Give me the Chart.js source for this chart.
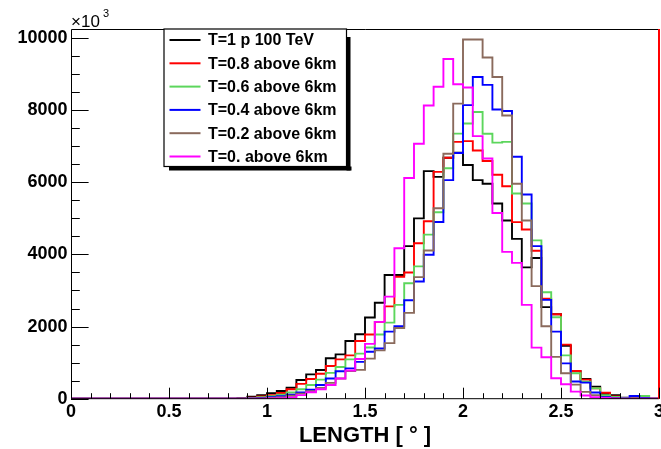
<!DOCTYPE html>
<html>
<head>
<meta charset="utf-8">
<script src="https://cdn.jsdelivr.net/npm/chart.js@4.4.1/dist/chart.umd.min.js"></script>
<style>
  html, body { margin: 0; padding: 0; background: #fff; }
  #wrap { width: 661px; height: 449px; }
</style>
</head>
<body>
<div id="wrap"><canvas id="chart" width="661" height="449"></canvas></div>
<script>
// histogram bins, 0.05 wide, first non-empty bin starts at 0.85
const binStart = 0.85;
const binWidth = 0.05;

const labels = ["T=1 p 100 TeV", "T=0.8 above 6km", "T=0.6 above 6km",
                "T=0.4 above 6km", "T=0.2 above 6km", "T=0. above 6km"];

const t100 = [20, 55, 95, 150, 215, 305, 520, 675, 795, 1120, 1230, 1600, 1785, 2250, 2660,
  3430, 3430, 4230, 5000, 6310, 6150, 6680, 6820, 6480, 6060, 5960, 5410, 4940, 4430, 3640,
  3900, 2540, 2340, 1470, 760, 545, 335, 130, 100, 30, 15, 5, 0];
const t080 = [10, 30, 60, 100, 160, 260, 410, 545, 690, 905, 1090, 1200, 1600, 1780, 2130,
  2560, 3380, 3500, 4310, 4920, 6290, 6680, 7120, 7140, 6880, 6590, 6210, 5890, 4895, 4690,
  4100, 2770, 2340, 1500, 770, 530, 290, 165, 60, 20, 10, 5, 0];
const t060 = [5, 20, 40, 70, 110, 170, 260, 380, 530, 715, 880, 1090, 1250, 1420, 1780,
  2110, 2600, 3200, 3670, 4550, 5170, 6390, 7350, 7630, 7950, 7345, 7100, 7120, 5690, 5410,
  4390, 2950, 2260, 1200, 705, 470, 290, 100, 50, 20, 10, 75, 0];
const t040 = [0, 10, 20, 40, 70, 110, 170, 250, 380, 560, 760, 840, 1020, 1300, 1390,
  1860, 2010, 2730, 3250, 3990, 4900, 6060, 6810, 8140, 8920, 8700, 8020, 7975, 6710, 5660,
  4230, 2740, 1860, 980, 475, 445, 170, 50, 20, 10, 75, 20, 0];
const t020 = [0, 5, 10, 20, 40, 80, 140, 210, 300, 440, 560, 770, 800, 1110, 1340,
  1540, 1960, 2380, 3370, 4110, 5280, 6790, 8180, 9960, 9960, 9460, 8920, 7850, 5960, 4940,
  3120, 2010, 1160, 705, 390, 190, 100, 30, 10, 0, 0, 0, 0];
const t000 = [0, 0, 0, 5, 15, 35, 100, 180, 260, 380, 560, 780, 1100, 1520, 2130,
  2830, 4170, 6120, 7070, 8130, 8650, 9420, 8720, 8630, 7280, 6660, 5150, 4070, 3765, 2600,
  1415, 1150, 565, 400, 195, 90, 40, 20, 10, 0, 0, 0, 0];

const xTicks = [0, 0.5, 1, 1.5, 2, 2.5, 3];
const yTicks = [0, 2000, 4000, 6000, 8000, 10000];

const colors = ["#000000", "#ff0000", "#5cd65c", "#0000ff", "#8a6a5c", "#ff00ff"];
const FONT = "'Liberation Sans', Arial, Helvetica, sans-serif";

function histPoints(values) {
  const pts = [{ x: 0, y: 0 }];
  values.forEach((v, i) => pts.push({ x: +(binStart + i * binWidth).toFixed(2), y: v }));
  pts.push({ x: 3, y: values[values.length - 1] });
  return pts;
}

const series = [t100, t080, t060, t040, t020, t000];
const datasets = series.map((vals, i) => ({
  label: labels[i],
  data: histPoints(vals),
  borderColor: colors[i],
  borderWidth: 1.9,
  pointRadius: 0,
  stepped: "before",
  fill: false,
  order: series.length - i   // later series drawn on top, like ROOT
}));

// ROOT-like frame, inward ticks, x10^3 and boxed legend
const rootStyle = {
  id: "rootStyle",
  afterDatasetsDraw(chart) {
    const { ctx, chartArea: a, scales } = chart;
    const xs = scales.x, ys = scales.y;
    ctx.save();
    ctx.lineWidth = 1;
    ctx.strokeStyle = "#000";
    ctx.beginPath();
    ctx.moveTo(a.right, a.top + 0.5); ctx.lineTo(a.left + 0.5, a.top + 0.5);
    ctx.lineTo(a.left + 0.5, a.bottom); ctx.lineTo(a.right, a.bottom);
    ctx.stroke();
    ctx.strokeStyle = "#ff0000";
    ctx.lineWidth = 2;
    ctx.beginPath();
    ctx.moveTo(a.right, a.top); ctx.lineTo(a.right, a.bottom);
    ctx.stroke();

    // ticks
    ctx.strokeStyle = "#000";
    ctx.lineWidth = 1;
    ctx.beginPath();
    for (let v = 0; v <= 10000; v += 500) {
      const y = Math.round(ys.getPixelForValue(v)) + 0.5;
      const len = v % 2000 === 0 ? 17.6 : 8.8;
      ctx.moveTo(a.left, y); ctx.lineTo(a.left + len, y);
    }
    for (let k = 0; k <= 30; k++) {
      const x = Math.round(xs.getPixelForValue(k / 10)) + 0.5;
      const len = k % 5 === 0 ? 11 : 5.5;
      ctx.moveTo(x, a.bottom); ctx.lineTo(x, a.bottom - len);
    }
    ctx.stroke();

    // x10^3
    ctx.fillStyle = "#000";
    ctx.textBaseline = "alphabetic";
    ctx.textAlign = "left";
    ctx.font = "17px " + FONT;
    ctx.fillText("\u00d710", 71, 27);
    ctx.font = "11px " + FONT;
    ctx.fillText("3", 103, 17);

    // legend
    const L = 164, T = 29, R = 346.5, B = 166.5;
    ctx.fillStyle = "#000";
    ctx.fillRect(L + 5, B, R - L, 4);
    ctx.fillRect(R, T + 8, 4, B - T - 4);
    ctx.fillStyle = "#fff";
    ctx.fillRect(L, T, R - L, B - T);
    ctx.strokeStyle = "#000";
    ctx.lineWidth = 1.2;
    ctx.strokeRect(L, T, R - L, B - T);
    ctx.font = "bold 16px " + FONT;
    ctx.textBaseline = "middle";
    chart.data.datasets.forEach((ds, i) => {
      const y = 40 + i * 23.3;
      ctx.strokeStyle = ds.borderColor;
      ctx.lineWidth = 2;
      ctx.beginPath();
      ctx.moveTo(169.5, y); ctx.lineTo(200.5, y);
      ctx.stroke();
      ctx.fillStyle = "#000";
      ctx.fillText(ds.label, 208, y + 1);
    });
    ctx.restore();
  }
};

new Chart(document.getElementById("chart"), {
  type: "line",
  data: { datasets },
  options: {
    responsive: false,
    animation: false,
    layout: { padding: { left: 0, right: 2, top: 29, bottom: 0 } },
    plugins: { legend: { display: false }, tooltip: { enabled: false } },
    scales: {
      x: {
        type: "linear",
        min: 0,
        max: 3,
        border: { display: false },
        grid: { display: false, drawTicks: false },
        afterBuildTicks: (s) => { s.ticks = xTicks.map(v => ({ value: v })); },
        afterFit: (s) => { s.height = 50.3; s.paddingLeft = 0; s.paddingRight = 0; },
        ticks: {
          color: "#000",
          padding: 3,
          maxRotation: 0,
          font: { family: FONT, size: 18, weight: "bold" },
          callback: (v) => String(v)
        },
        title: {
          display: true,
          text: "LENGTH [ \u00b0 ]",
          color: "#000",
          padding: { top: 0, bottom: 0 },
          font: { family: FONT, size: 22, weight: "bold" }
        }
      },
      y: {
        min: 0,
        max: 10250,
        border: { display: false },
        grid: { display: false, drawTicks: false },
        afterBuildTicks: (s) => { s.ticks = yTicks.map(v => ({ value: v })); },
        afterFit: (s) => { s.width = 71; s.paddingTop = 0; s.paddingBottom = 0; },
        ticks: {
          color: "#000",
          padding: 3.5,
          font: { family: FONT, size: 18, weight: "bold" },
          callback: (v) => String(v)
        }
      }
    }
  },
  plugins: [rootStyle]
});
</script>
</body>
</html>
